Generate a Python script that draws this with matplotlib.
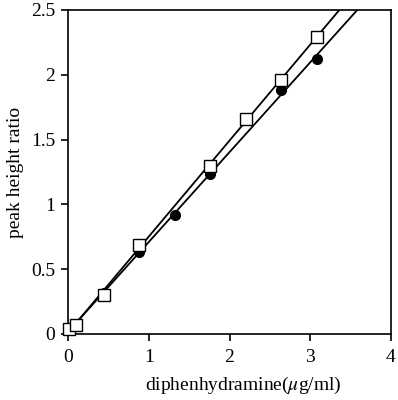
import numpy as np
import matplotlib
matplotlib.use("Agg")
import matplotlib.pyplot as plt

plt.rcParams['font.family'] = ['Liberation Serif', 'DejaVu Serif']
plt.rcParams['mathtext.fontset'] = 'stix'

# open squares
sq_x = [0.01, 0.10, 0.44, 0.88, 1.76, 2.20, 2.64, 3.08]
sq_y = [0.042, 0.073, 0.30, 0.69, 1.30, 1.66, 1.96, 2.29]
# filled circles
ci_x = [0.44, 0.88, 1.32, 1.76, 2.64, 3.08]
ci_y = [0.32, 0.635, 0.915, 1.235, 1.885, 2.125]

x_ticks = [0, 1, 2, 3, 4]
y_ticks = [0, 0.5, 1, 1.5, 2, 2.5]
y_tick_labels = ['0', '0.5', '1', '1.5', '2', '2.5']

fig = plt.figure(figsize=(3.98, 4.00), dpi=100)
ax = fig.add_axes([68/398, 66/400, 323/398, 324/400])

xx = np.array([0, 4.0])
for xs, ys in [(sq_x, sq_y), (ci_x, ci_y)]:
    m, b = np.polyfit(xs, ys, 1)
    ax.plot(xx, m * xx + b, color='black', lw=1.3, zorder=2)

ax.plot(ci_x, ci_y, 'o', ms=7, mfc='black', mec='black', zorder=3, clip_on=False)
ax.plot(sq_x, sq_y, 's', ms=8, mfc='white', mec='black', mew=1.0, zorder=4, clip_on=False)

ax.set_xlim(0, 4)
ax.set_ylim(0, 2.5)
ax.set_xticks(x_ticks)
ax.set_xticklabels([str(t) for t in x_ticks])
ax.set_yticks(y_ticks)
ax.set_yticklabels(y_tick_labels)
ax.tick_params(direction='out', length=5, width=1.2, labelsize=14)
ax.tick_params(axis='x', pad=6)
ax.tick_params(axis='y', pad=4)
for s in ax.spines.values():
    s.set_linewidth(1.2)
ax.set_xlabel(r'diphenhydramine($\mu$g/ml)', fontsize=14)
ax.set_ylabel('peak height ratio', fontsize=14, labelpad=5)
ax.xaxis.set_label_coords(0.542, -0.125)

fig.savefig('out.png', dpi=100)
